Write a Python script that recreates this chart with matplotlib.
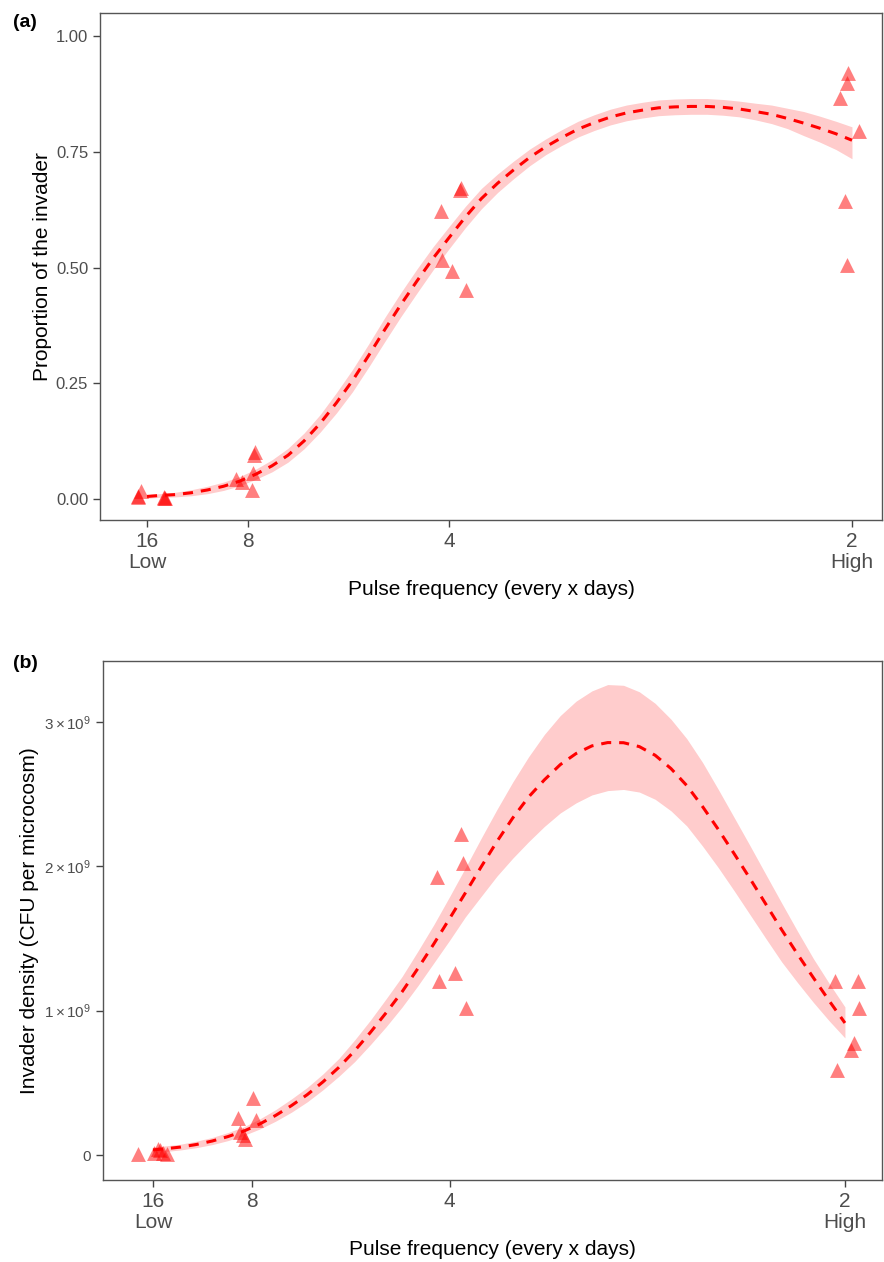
import matplotlib
matplotlib.use("Agg")
import matplotlib.pyplot as plt

plt.rcParams['font.family'] = ['Liberation Sans', 'DejaVu Sans']
plt.rcParams['mathtext.fontset'] = 'custom'
plt.rcParams['mathtext.rm'] = 'Liberation Sans'
plt.rcParams['mathtext.it'] = 'Liberation Sans:italic'
plt.rcParams['mathtext.bf'] = 'Liberation Sans:bold'

# x is pulse frequency = 1 / (days between pulses)
tick_x = [1/16, 1/8, 1/4, 1/2]
tick_lab = ['16\nLow', '8', '4', '2\nHigh']

# panel (a): proportion of the invader
a_px = [0.0566, 0.0588, 0.0572, 0.0730, 0.0735, 0.0728,
        0.1295, 0.1290, 0.1283, 0.1177, 0.1215, 0.1277,
        0.2574, 0.2570, 0.2450, 0.2456, 0.2518, 0.2605,
        0.4975, 0.4967, 0.4926, 0.5044, 0.4957, 0.4967]
a_py = [0.004, 0.018, 0.006, 0.003, 0.002, 0.004,
        0.101, 0.095, 0.056, 0.043, 0.037, 0.019,
        0.672, 0.668, 0.622, 0.516, 0.492, 0.451,
        0.920, 0.898, 0.867, 0.795, 0.644, 0.505]

fit_x = [0.0625, 0.07, 0.08, 0.09, 0.10, 0.11, 0.12, 0.13, 0.14, 0.15, 0.16, 0.17,
         0.18, 0.19, 0.20, 0.21, 0.22, 0.23, 0.24, 0.25, 0.26, 0.27, 0.28, 0.29,
         0.30, 0.31, 0.32, 0.33, 0.34, 0.35, 0.36, 0.37, 0.38, 0.39, 0.40, 0.41,
         0.42, 0.43, 0.44, 0.45, 0.46, 0.47, 0.48, 0.49, 0.50]

a_fit = [0.006, 0.008, 0.010, 0.014, 0.020, 0.028, 0.039, 0.054, 0.072, 0.095, 0.126, 0.164,
         0.208, 0.256, 0.310, 0.366, 0.420, 0.471, 0.520, 0.565, 0.609, 0.649, 0.682, 0.711,
         0.738, 0.761, 0.781, 0.799, 0.813, 0.825, 0.834, 0.840, 0.845, 0.847, 0.848, 0.848,
         0.846, 0.8425, 0.837, 0.831, 0.822, 0.812, 0.801, 0.789, 0.775]
a_lo = [0.002, 0.004, 0.005, 0.0075, 0.012, 0.019, 0.029, 0.043, 0.059, 0.080, 0.109, 0.145,
        0.186, 0.232, 0.285, 0.340, 0.394, 0.445, 0.495, 0.541, 0.586, 0.627, 0.662, 0.692,
        0.720, 0.744, 0.764, 0.782, 0.796, 0.808, 0.817, 0.823, 0.828, 0.830, 0.831, 0.831,
        0.829, 0.8255, 0.819, 0.811, 0.800, 0.785, 0.771, 0.755, 0.735]
a_hi = [0.010, 0.012, 0.015, 0.0205, 0.028, 0.037, 0.049, 0.065, 0.085, 0.110, 0.143, 0.183,
        0.230, 0.280, 0.335, 0.392, 0.446, 0.497, 0.545, 0.589, 0.632, 0.671, 0.702, 0.730,
        0.756, 0.778, 0.798, 0.816, 0.830, 0.842, 0.851, 0.857, 0.862, 0.864, 0.865, 0.865,
        0.863, 0.8595, 0.855, 0.851, 0.844, 0.837, 0.827, 0.816, 0.804]

# panel (b): invader density (CFU per microcosm), in units of 1e9
b_px = [0.0530, 0.0631, 0.0657, 0.0669, 0.0688, 0.0713,
        0.1259, 0.1164, 0.1276, 0.1175, 0.1196, 0.1207,
        0.2572, 0.2587, 0.2422, 0.2534, 0.2435, 0.2602,
        0.4937, 0.5080, 0.5090, 0.5057, 0.5038, 0.4947]
b_py = [0.007, 0.014, 0.042, 0.035, 0.014, 0.007,
        0.393, 0.254, 0.243, 0.161, 0.139, 0.109,
        2.222, 2.026, 1.929, 1.259, 1.208, 1.017,
        1.206, 1.206, 1.017, 0.774, 0.728, 0.589]

b_fit = [0.035, 0.043, 0.055, 0.073, 0.097, 0.128, 0.166, 0.215, 0.274, 0.342, 0.418, 0.507,
         0.607, 0.722, 0.850, 0.987, 1.131, 1.293, 1.462, 1.638, 1.816, 1.997, 2.173, 2.336,
         2.481, 2.600, 2.705, 2.782, 2.835, 2.858, 2.857, 2.830, 2.770, 2.678, 2.560, 2.414,
         2.255, 2.087, 1.915, 1.738, 1.561, 1.392, 1.229, 1.069, 0.915]
b_lo = [0.017, 0.024, 0.035, 0.051, 0.072, 0.100, 0.136, 0.180, 0.234, 0.296, 0.368, 0.452,
        0.545, 0.647, 0.765, 0.890, 1.025, 1.173, 1.330, 1.487, 1.650, 1.792, 1.933, 2.057,
        2.171, 2.277, 2.370, 2.440, 2.495, 2.525, 2.533, 2.515, 2.465, 2.385, 2.280, 2.140,
        1.990, 1.830, 1.665, 1.500, 1.338, 1.195, 1.058, 0.930, 0.811]
b_hi = [0.055, 0.063, 0.075, 0.096, 0.122, 0.156, 0.196, 0.250, 0.314, 0.388, 0.468, 0.562,
        0.669, 0.797, 0.935, 1.084, 1.237, 1.413, 1.595, 1.790, 1.990, 2.195, 2.395, 2.585,
        2.760, 2.915, 3.045, 3.145, 3.216, 3.260, 3.255, 3.210, 3.130, 3.020, 2.885, 2.720,
        2.532, 2.338, 2.143, 1.944, 1.746, 1.551, 1.362, 1.190, 1.026]

fig = plt.figure(figsize=(8.84, 12.62), dpi=100)
ax1 = fig.add_axes([0.1131, 0.5879, 0.8846, 0.4018])
ax2 = fig.add_axes([0.1165, 0.0650, 0.8812, 0.4112])


def style(ax):
    for s in ax.spines.values():
        s.set_color('#555555')
        s.set_linewidth(1.0)
    ax.tick_params(direction='out', length=5, width=1, color='#444444',
                   labelcolor='#4D4D4D')
    ax.set_xticks(tick_x)
    ax.set_xticklabels(tick_lab, fontsize=15, linespacing=1.15)
    ax.set_xlabel('Pulse frequency (every x days)', fontsize=15, labelpad=6)


# (a)
ax1.scatter(a_px, a_py, marker='^', s=115, color='red', alpha=0.5, linewidths=0, zorder=2)
ax1.fill_between(fit_x, a_lo, a_hi, color='red', alpha=0.2, linewidth=0, zorder=3)
ax1.plot(fit_x, a_fit, color='red', lw=2.2, dashes=(3.3, 2.6), zorder=4)
ax1.set_xlim(0.0333, 0.5186)
ax1.set_ylim(-0.045, 1.0497)
style(ax1)
ax1.set_yticks([0, 0.25, 0.5, 0.75, 1.0])
ax1.set_yticklabels(['0.00', '0.25', '0.50', '0.75', '1.00'], fontsize=12)
ax1.set_ylabel('Proportion of the invader', fontsize=15, labelpad=3)

# (b)
sc = 1e9
ax2.scatter(b_px, [v * sc for v in b_py], marker='^', s=115, color='red',
            alpha=0.5, linewidths=0, zorder=2)
ax2.fill_between(fit_x, [v * sc for v in b_lo], [v * sc for v in b_hi],
                 color='red', alpha=0.2, linewidth=0, zorder=3)
ax2.plot(fit_x, [v * sc for v in b_fit], color='red', lw=2.2, dashes=(3.3, 2.6), zorder=4)
ax2.set_xlim(0.0309, 0.5234)
ax2.set_ylim(-0.173e9, 3.423e9)
style(ax2)
ax2.set_yticks([0, 1e9, 2e9, 3e9])
ax2.set_yticklabels(['0', r'$1\times10^{9}$', r'$2\times10^{9}$', r'$3\times10^{9}$'],
                    fontsize=11)
ax2.set_ylabel('Invader density (CFU per microcosm)', fontsize=15, labelpad=4)

fig.text(0.015, 0.982, '(a)', fontsize=14, fontweight='bold', va='center')
fig.text(0.015, 0.474, '(b)', fontsize=14, fontweight='bold', va='center')

fig.savefig('out.png', dpi=100)
